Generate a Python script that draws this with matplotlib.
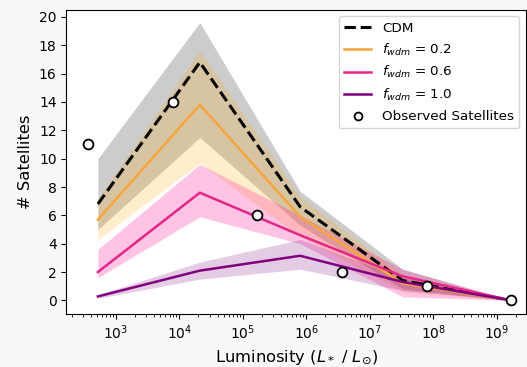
import numpy as np
import matplotlib
matplotlib.use('Agg')
import matplotlib.pyplot as plt

# точки по светимости для модели
lum = [5.2e2, 2.1e4, 8.0e5, 3.3e7, 1.7e9]

cdm = [6.8, 16.8, 6.6, 1.4, 0.0]
cdm_lo = [5.0, 11.5, 5.3, 0.8, 0.0]
cdm_hi = [10.0, 19.6, 7.7, 2.2, 0.0]

w02 = [5.7, 13.8, 5.9, 1.2, 0.0]
w02_lo = [4.3, 9.7, 4.5, 0.6, 0.0]
w02_hi = [7.2, 17.6, 7.3, 1.8, 0.0]

w06 = [2.0, 7.6, 4.6, 1.7, 0.0]
w06_lo = [1.6, 5.9, 4.0, 0.25, 0.0]
w06_hi = [3.6, 9.6, 6.0, 2.2, 0.0]

w10 = [0.28, 2.1, 3.15, 1.3, 0.0]
w10_lo = [0.15, 1.5, 2.2, 0.7, 0.0]
w10_hi = [0.4, 2.7, 4.3, 1.6, 0.0]

# наблюдаемые спутники
obs_lum = [3.6e2, 8.0e3, 1.7e5, 3.7e6, 8.0e7, 1.7e9]
obs_n = [11, 14, 6, 2, 1, 0]

x_ticks = [1e3, 1e4, 1e5, 1e6, 1e7, 1e8, 1e9]

fig = plt.figure(figsize=(5.27, 3.67), dpi=100, facecolor='#f8f8f8')
ax = fig.add_axes([0.126, 0.144, 0.872, 0.83])

ax.fill_between(lum, cdm_lo, cdm_hi, color='gray', alpha=0.4, linewidth=0)
ax.plot(lum, cdm, 'k--', lw=2.2, label='CDM')
ax.fill_between(lum, w02_lo, w02_hi, color='orange', alpha=0.2, linewidth=0)
ax.plot(lum, w02, color='#f5a53c', lw=1.8, label='$f_{wdm}$ = 0.2')
ax.fill_between(lum, w06_lo, w06_hi, color='deeppink', alpha=0.25, linewidth=0)
ax.plot(lum, w06, color='#e8258a', lw=1.8, label='$f_{wdm}$ = 0.6')
ax.fill_between(lum, w10_lo, w10_hi, color='purple', alpha=0.2, linewidth=0)
ax.plot(lum, w10, color='purple', lw=1.8, label='$f_{wdm}$ = 1.0')
ax.scatter(obs_lum, obs_n, facecolor='white', edgecolor='black', s=50, lw=1.3,
           zorder=5, label='Observed Satellites')

ax.set_xscale('log')
ax.set_xticks(x_ticks)
ax.set_xlim(10**2.22, 10**9.46)
ax.set_ylim(-0.97, 20.52)
ax.set_yticks(range(0, 21, 2))
ax.set_xlabel(r'Luminosity ($L_*$ / $L_{\odot}$)', fontsize=11.8)
ax.set_ylabel('# Satellites', fontsize=11.8)
ax.tick_params(labelsize=10)
ax.legend(loc='upper right', fontsize=9.7, markerscale=0.8)

fig.savefig('out.png', dpi=100, facecolor=fig.get_facecolor())
